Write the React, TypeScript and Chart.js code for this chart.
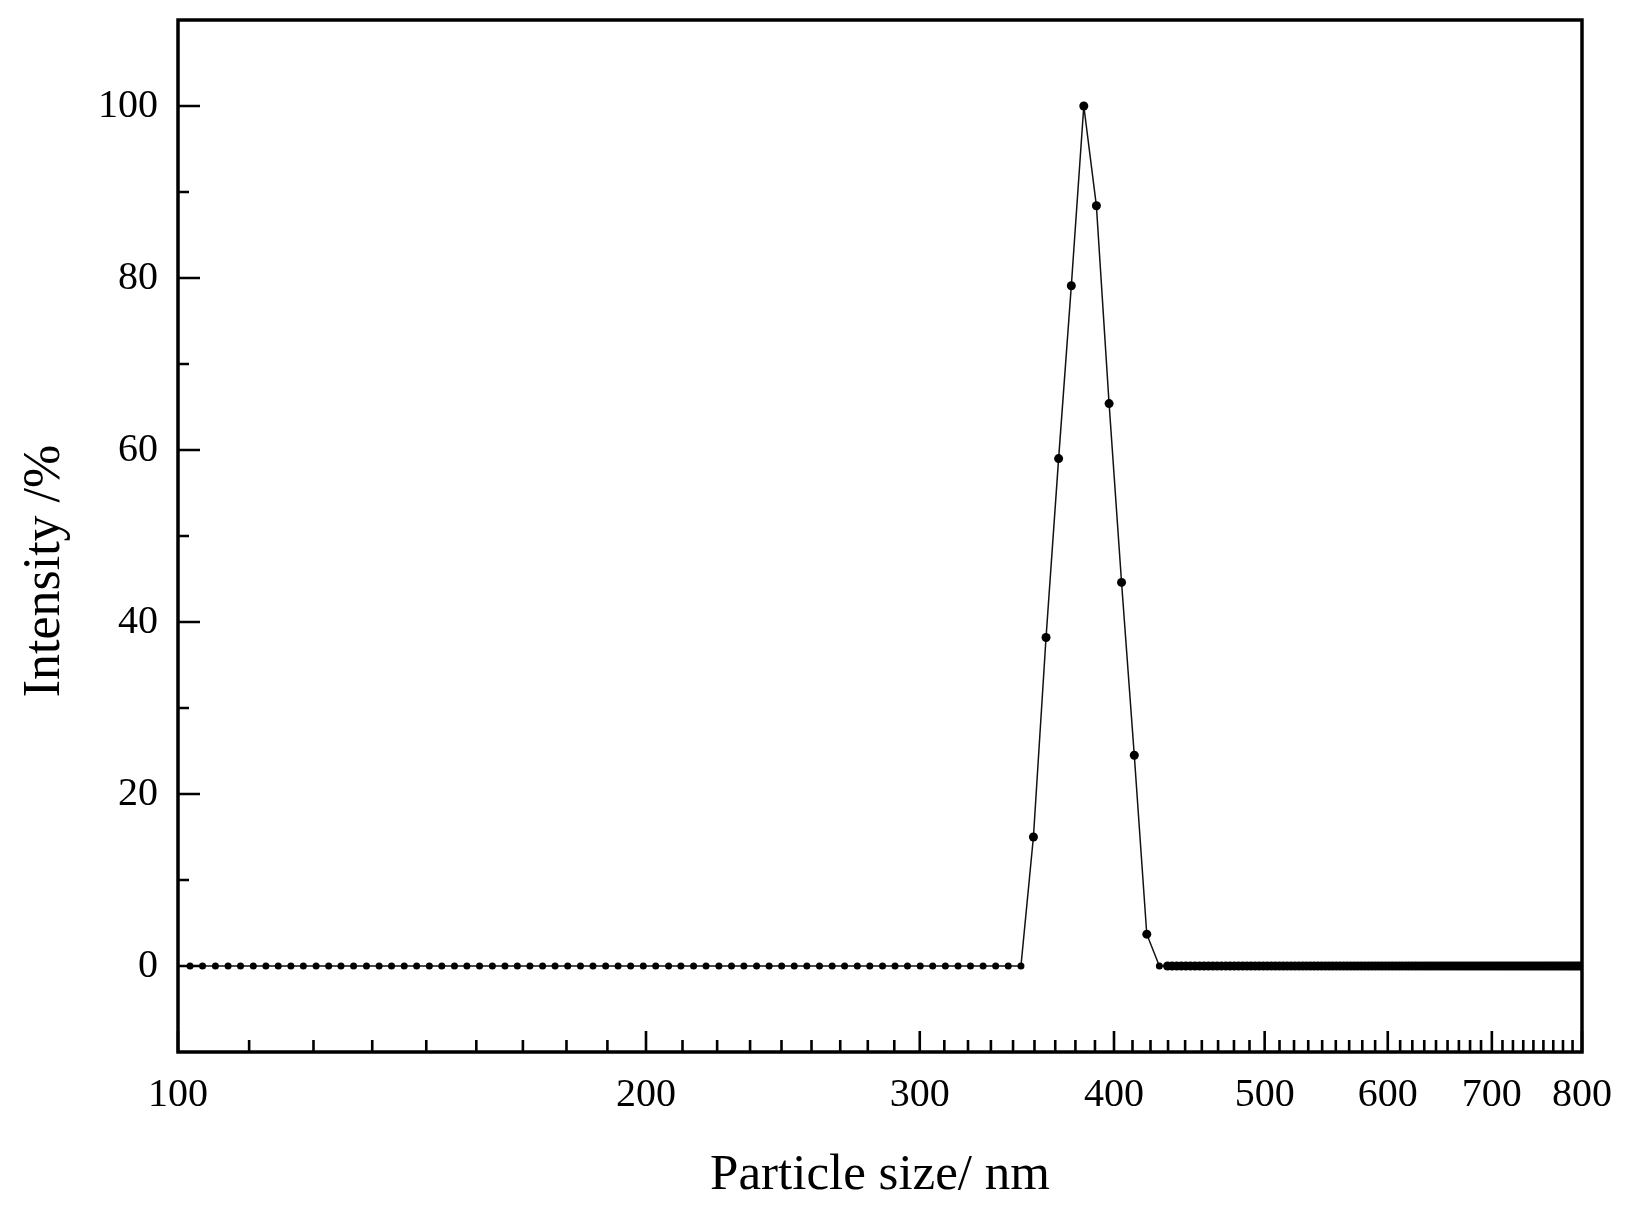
import React, { useEffect, useRef } from 'react';
import { Chart, registerables } from 'chart.js';

Chart.register(...registerables);

const mainSizes = [
  101.8, 103.7, 105.7, 107.7, 109.7, 111.8, 113.9, 116.0, 118.2, 120.4,
  122.7, 125.0, 127.3, 129.7, 132.2, 134.7, 137.2, 139.8, 142.4, 145.1,
  147.8, 150.6, 153.4, 156.3, 159.3, 162.3, 165.3, 168.4, 171.6, 174.8,
  178.1, 181.5, 184.9, 188.4, 191.9, 195.5, 199.2, 202.9, 206.8, 210.6,
  214.6, 218.6, 222.8, 227.0, 231.2, 235.6, 240.0, 244.5, 249.1, 253.8,
  258.6, 263.5, 268.4, 273.5, 278.6, 283.9, 289.2, 294.6, 300.2, 305.8,
  311.6, 317.5, 323.4, 329.5, 335.7, 342.0, 348.5, 355.0, 361.7, 368.5,
  375.5, 382.5, 389.7, 397.1, 404.5, 412.2, 419.9, 427.8,
];

// Intensity (%) for each of mainSizes
const mainIntensity = [
  0, 0, 0, 0, 0, 0, 0, 0, 0, 0,
  0, 0, 0, 0, 0, 0, 0, 0, 0, 0,
  0, 0, 0, 0, 0, 0, 0, 0, 0, 0,
  0, 0, 0, 0, 0, 0, 0, 0, 0, 0,
  0, 0, 0, 0, 0, 0, 0, 0, 0, 0,
  0, 0, 0, 0, 0, 0, 0, 0, 0, 0,
  0, 0, 0, 0, 0, 0, 0, 15.0, 38.2, 59.0,
  79.1, 100, 88.4, 65.4, 44.6, 24.5, 3.7, 0,
];

// Densely sampled tail (nm), all at zero intensity
const tailSizes = [
  433, 436, 439, 442, 445, 448, 451, 454, 457, 460,
  463, 466, 469, 472, 475, 478, 481, 484, 487, 490,
  493, 496, 499, 502, 505, 508, 511, 514, 517, 520,
  523, 526, 529, 532, 535, 538, 541, 544, 547, 550,
  553, 556, 559, 562, 565, 568, 571, 574, 577, 580,
  583, 586, 589, 592, 595, 598, 601, 604, 607, 610,
  613, 616, 619, 622, 625, 628, 631, 634, 637, 640,
  643, 646, 649, 652, 655, 658, 661, 664, 667, 670,
  673, 676, 679, 682, 685, 688, 691, 694, 697, 700,
  703, 706, 709, 712, 715, 718, 721, 724, 727, 730,
  733, 736, 739, 742, 745, 748, 751, 754, 757, 760,
  763, 766, 769, 772, 775, 778, 781, 784, 787, 790,
  793, 796, 799, 800,
];

const tailIntensity = [
  0, 0, 0, 0, 0, 0, 0, 0, 0, 0,
  0, 0, 0, 0, 0, 0, 0, 0, 0, 0,
  0, 0, 0, 0, 0, 0, 0, 0, 0, 0,
  0, 0, 0, 0, 0, 0, 0, 0, 0, 0,
  0, 0, 0, 0, 0, 0, 0, 0, 0, 0,
  0, 0, 0, 0, 0, 0, 0, 0, 0, 0,
  0, 0, 0, 0, 0, 0, 0, 0, 0, 0,
  0, 0, 0, 0, 0, 0, 0, 0, 0, 0,
  0, 0, 0, 0, 0, 0, 0, 0, 0, 0,
  0, 0, 0, 0, 0, 0, 0, 0, 0, 0,
  0, 0, 0, 0, 0, 0, 0, 0, 0, 0,
  0, 0, 0, 0, 0, 0, 0, 0, 0, 0,
  0, 0, 0, 0,
];

const xTickValues = [100, 200, 300, 400, 500, 600, 700, 800];
const yTickValues = [0, 20, 40, 60, 80, 100];
const yMinorTickValues = [10, 30, 50, 70, 90];
const xAxisTitle = 'Particle size/ nm';
const yAxisTitle = 'Intensity /%';

const FONT = '"Liberation Serif", "Times New Roman", serif';

const framePlugin = {
  id: 'frameTicks',
  afterDatasetsDraw(chart: any) {
    const { ctx, chartArea, scales } = chart;
    const { left, right, top, bottom } = chartArea;
    const x = scales.x;
    const y = scales.y;
    ctx.save();
    ctx.strokeStyle = '#000';
    ctx.lineWidth = 2.6;
    ctx.beginPath();
    for (const v of xTickValues) {
      const px = x.getPixelForValue(v);
      ctx.moveTo(px, bottom);
      ctx.lineTo(px, bottom - 21);
    }
    for (let i = 0; i < xTickValues.length - 1; i++) {
      const a = xTickValues[i];
      const b = xTickValues[i + 1];
      for (let k = 1; k <= 8; k++) {
        const px = x.getPixelForValue(a + ((b - a) * k) / 9);
        ctx.moveTo(px, bottom);
        ctx.lineTo(px, bottom - 12);
      }
    }
    for (const v of yTickValues) {
      const py = y.getPixelForValue(v);
      ctx.moveTo(left, py);
      ctx.lineTo(left + 22, py);
    }
    for (const v of yMinorTickValues) {
      const py = y.getPixelForValue(v);
      ctx.moveTo(left, py);
      ctx.lineTo(left + 11, py);
    }
    ctx.stroke();
    ctx.lineWidth = 3.5;
    ctx.strokeRect(left, top, right - left, bottom - top);

    // y axis title
    ctx.fillStyle = '#000';
    ctx.font = `52px ${FONT}`;
    ctx.textAlign = 'center';
    ctx.textBaseline = 'alphabetic';
    ctx.translate(59, 571);
    ctx.rotate(-Math.PI / 2);
    ctx.fillText(yAxisTitle, 0, 0);
    ctx.restore();
  },
};

export default function App() {
  const canvasRef = useRef<HTMLCanvasElement | null>(null);

  useEffect(() => {
    document.body.style.margin = '0';
    const canvas = canvasRef.current;
    if (!canvas) return;
    const points = [
      ...mainSizes.map((s, i) => ({ x: s, y: mainIntensity[i] })),
      ...tailSizes.map((s, i) => ({ x: s, y: tailIntensity[i] })),
    ];
    const chart = new Chart(canvas, {
      type: 'line',
      data: {
        datasets: [
          {
            data: points,
            borderColor: '#111',
            borderWidth: 1.5,
            pointRadius: (c: any) => (c.raw && (c.raw.y > 0 || c.raw.x > 430) ? 4.5 : 3.5),
            pointBackgroundColor: '#000',
            pointBorderWidth: 0,
            pointHoverRadius: 4,
            tension: 0,
            fill: false,
          },
        ],
      },
      options: {
        animation: false,
        responsive: false,
        devicePixelRatio: 1,
        events: [],
        layout: { padding: { top: 20, right: 54, bottom: 0, left: 0 } },
        plugins: {
          legend: { display: false },
          tooltip: { enabled: false },
        },
        scales: {
          x: {
            type: 'logarithmic',
            position: 'bottom',
            min: 100,
            max: 800,
            grid: { display: false, drawTicks: false },
            border: { display: false },
            afterBuildTicks: (s: any) => {
              s.ticks = xTickValues.map((v) => ({ value: v }));
            },
            afterFit: (s: any) => {
              s.height = 169;
              s.paddingLeft = 0;
              s.paddingRight = 0;
            },
            ticks: {
              autoSkip: false,
              maxRotation: 0,
              minRotation: 0,
              padding: 19,
              color: '#000',
              font: { family: FONT, size: 40 },
              callback: (v: any) => String(v),
            },
            title: {
              display: true,
              text: xAxisTitle,
              color: '#000',
              font: { family: FONT, size: 51 },
              padding: { top: 0, bottom: 15 },
            },
          },
          y: {
            type: 'linear',
            position: 'left',
            min: -10,
            max: 110,
            grid: { display: false, drawTicks: false },
            border: { display: false },
            afterBuildTicks: (s: any) => {
              s.ticks = yTickValues.map((v) => ({ value: v }));
            },
            afterFit: (s: any) => {
              s.width = 178;
              s.paddingTop = 0;
              s.paddingBottom = 0;
            },
            ticks: {
              padding: 20,
              color: '#000',
              font: { family: FONT, size: 40 },
              callback: (v: any) => String(v),
            },
          },
        },
      },
      plugins: [framePlugin],
    });
    return () => chart.destroy();
  }, []);

  return (
    <div style={{ position: 'fixed', left: 0, top: 0, width: 1636, height: 1221, background: '#fff' }}>
      <canvas ref={canvasRef} width={1636} height={1221} style={{ display: 'block' }} />
    </div>
  );
}
